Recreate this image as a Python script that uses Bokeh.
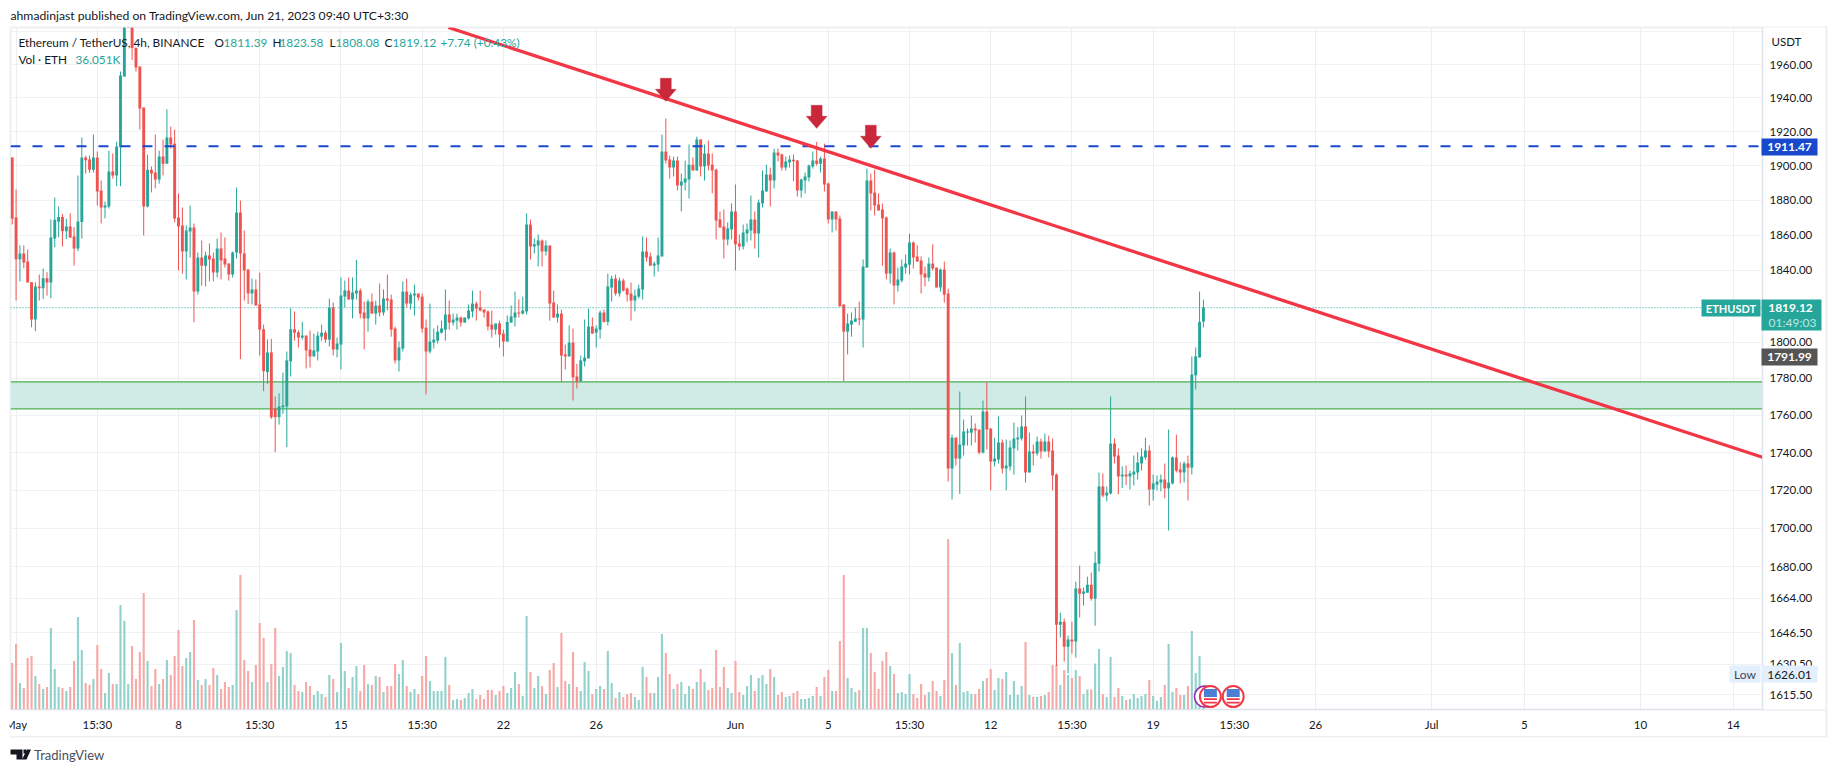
from math import exp
from bokeh.plotting import figure
from bokeh.embed import file_html
from bokeh.resources import INLINE
from bokeh.core.properties import value
from bokeh.models import (Range1d, LinearScale, FixedTicker, NumeralTickFormatter, ColumnDataSource)

FONT = "Lato"
UP, DOWN = "#26a69a", "#ef5350"
UP_V, DOWN_V = "#92d2cc", "#f7a9a7"
INK = "#131722"

opens = [
 1904.9,1870.2,1846.4,1849.6,1845.0,1833.4,1812.5,1831,1830,1835.6,
 1833.2,1858.1,1867.7,1870.4,1862.3,1865,1859.3,1852.4,1867.5,1904.9,
 1903.7,1897.8,1904.9,1885.7,1875.9,1876.5,1896.7,1894.4,1910.9,1952.8,
 1987,1984.6,1970.1,1958.8,1934.3,1876.5,1897.8,1896.1,1892,1905.4,
 1901.3,1916.6,1913,1870.2,1865.6,1850.7,1862.1,1864.4,1828.1,1847.3,
 1842.7,1848.5,1846.8,1838.8,1852.4,1846.8,1843.9,1837.7,1850.2,1873,
 1849.6,1840.5,1827,1829.3,1820.9,1807.1,1783.5,1794.3,1763.5,1759,
 1764.4,1764.8,1789.4,1807.1,1805.4,1802.5,1803.6,1795.9,1792.1,1794.8,
 1803,1805.2,1801.4,1819.2,1795.9,1798.6,1825.3,1828.7,1823.7,1827,
 1828.7,1816.4,1813.1,1822.5,1815.8,1820.3,1816.4,1824.2,1823.7,1807.5,
 1789.9,1796.4,1828.1,1821.4,1825.9,1827,1825.3,1808,1794.8,1799.7,
 1800.8,1805.2,1806.9,1815.3,1810.8,1811.9,1813.6,1810.8,1813.1,1817,
 1821.4,1819.2,1818.1,1817,1809.7,1806.9,1810.3,1804.7,1800.3,1810.8,
 1813.6,1816.4,1815.8,1817,1866.1,1853.6,1854.2,1857,1850.7,1854.2,
 1822,1813.6,1815.8,1793.2,1792.1,1799.7,1781.1,1778.4,1789.4,1791,
 1808.6,1805.2,1806.9,1816.4,1811.2,1830.4,1835.4,1827,1834.3,1829.8,
 1827,1823.1,1825.3,1829.3,1850.7,1847.9,1842.7,1843.3,1847.9,1908.4,
 1903.7,1899,1903.1,1888.6,1890.3,1892,1900.7,1897.3,1915.4,1899.6,
 1907.2,1900.7,1897.8,1869,1865,1857.6,1863.3,1873.6,1855.3,1853.6,
 1861,1862.7,1869,1861,1878.2,1885.1,1895,1891.5,1907.8,1906.6,
 1899,1902,1903.5,1903.1,1885.7,1891.5,1893.2,1899.6,1903.1,1901.3,
 1904.3,1889.7,1869,1873.6,1869.6,1820.9,1805.8,1809.7,1811.2,1813.1,
 1812.5,1841.6,1891.5,1884.6,1877.6,1874.7,1870.2,1838.2,1850.2,1831.5,
 1834.3,1841.6,1843.3,1855.9,1847.9,1845.6,1838.2,1836,1843.9,1841.6,
 1830.4,1840.5,1827,1731.5,1748,1736.8,1743.8,1750.7,1750.7,1752.9,
 1752.3,1740,1762.1,1752.9,1735.2,1736.3,1745.4,1731.5,1732.6,1742.2,
 1747,1747.5,1754,1729.4,1740.6,1739.5,1745.9,1740.6,1745.9,1741.1,
 1728.3,1650.5,1652,1639.4,1643,1642,1668.9,1666.3,1666.8,1670.9,
 1663.7,1681.7,1722,1717.2,1718.3,1744.8,1738.4,1727.3,1728.3,1727.3,
 1728.3,1729.4,1734.2,1737.4,1741.1,1720.4,1723,1724.1,1725.7,1721,
 1723.6,1737.4,1731,1729.4,1734.2,1732,1781.7,1791.5,1811.39]
closes = [
 1869.4,1846.4,1849.6,1844.5,1833.2,1812.5,1831,1830,1835.6,1833.2,
 1858.7,1868.8,1870.4,1862.3,1865,1858.7,1852.4,1867.9,1904.9,1903.3,
 1897.8,1904.9,1885.1,1875.9,1877,1896.7,1894.4,1911.3,1953.4,1986.6,
 1992,1969.9,1958.2,1933.7,1876.5,1897.8,1895.5,1892,1905.4,1901.3,
 1916.6,1912.5,1869.6,1865,1850.7,1862.7,1864.4,1828.1,1847.3,1842.7,
 1848.5,1846.2,1838.8,1852.4,1845.6,1843.3,1837.7,1850.2,1873,1849.6,
 1840,1827,1829.3,1820.3,1806.9,1784,1794.3,1759,1759,1764.8,
 1765.3,1789.9,1807.1,1805.2,1802.5,1803.6,1795.4,1792.1,1795.4,1803.6,
 1805.2,1801.4,1819.2,1795.9,1799.2,1825.9,1828.7,1823.7,1827.6,1828.7,
 1815.8,1813.1,1822.5,1815.8,1820.3,1816.4,1824.2,1823.1,1806.9,1789.9,
 1797,1828.1,1821.4,1826.4,1827,1824.8,1807.5,1794.8,1800.3,1801.4,
 1805.8,1807.5,1815.3,1810.8,1812.5,1813.6,1810.8,1813.6,1817.5,1821.4,
 1818.6,1817.5,1816.4,1808.6,1806.9,1810.3,1804.1,1800.3,1811.2,1814.2,
 1816.4,1815.8,1817.5,1866.1,1853.6,1854.8,1857,1850.7,1854.2,1821.4,
 1813.6,1815.8,1792.6,1792.1,1799.7,1780.6,1778.4,1789.9,1791.5,1808.6,
 1804.7,1807.5,1816.4,1811.2,1831,1835.4,1827,1834.3,1828.7,1826.4,
 1823.1,1825.9,1829.8,1850.7,1847.3,1842.7,1843.9,1848.5,1908.4,1903.1,
 1899,1903.1,1888.6,1890.9,1892.6,1900.7,1897.3,1915.4,1899.6,1907.2,
 1900.2,1897.3,1868.4,1864.4,1857.6,1863.9,1873.6,1854.8,1853.6,1861.6,
 1863.3,1869,1861,1878.8,1885.7,1895,1891.5,1907.8,1906,1899,
 1902.5,1903.7,1902.7,1885.7,1892,1893.8,1900.2,1903.1,1901.3,1904.3,
 1889.2,1869,1873.6,1869,1819.8,1805.8,1810.3,1811.9,1813.1,1812.5,
 1842.2,1891.5,1884,1877,1874.2,1869.6,1838.2,1850.2,1831.5,1834.9,
 1842.2,1843.9,1855.9,1847.3,1845,1837.7,1836,1843.9,1841.1,1830.4,
 1840.5,1826.4,1731.5,1748,1736.8,1744.3,1751.3,1751.3,1752.9,1751.8,
 1740,1762.1,1752.3,1735.2,1736.8,1745.4,1731.5,1733.1,1742.7,1747.5,
 1748,1754,1729.4,1740.6,1739.5,1745.9,1740.6,1745.9,1740.6,1727.8,
 1650.5,1652,1639.4,1643,1642,1668.9,1666.3,1667.4,1670.9,1663.7,
 1682.2,1722,1717.2,1718.8,1744.8,1737.9,1727.3,1728.3,1727.3,1728.9,
 1729.9,1734.7,1737.9,1741.1,1720.4,1723.6,1724.6,1725.7,1721,1724.1,
 1737.4,1730.4,1729.4,1734.2,1732,1782.2,1792.1,1811.2,1819.12]
highs = [
 1904.9,1886.3,1854.2,1854.2,1851.9,1833.4,1833.4,1837.7,1841.1,1839,
 1869,1881.6,1876.5,1872.3,1869.4,1872.6,1864.6,1894.4,1916.6,1906,
 1906,1918.3,1908.4,1891.5,1879.3,1908.9,1907.2,1914.2,1955.8,1990.7,
 1998,1988.6,1970.1,1958.8,1934.3,1906.6,1899.6,1918.3,1908.9,1915.4,
 1933.2,1923,1921.3,1884,1875.9,1865.6,1877,1866.7,1850.2,1857,
 1850.7,1855.3,1850.2,1858.1,1861.6,1858.7,1843.9,1850.7,1887.4,1879.9,
 1862.7,1840.5,1835.4,1834.9,1838.8,1809.7,1801.4,1801.8,1770.2,1771.9,
 1783.3,1794.8,1818.8,1817,1806.5,1811.2,1803.6,1806.4,1804.7,1805.8,
 1809.7,1806.4,1824.2,1822,1802.5,1836,1834.3,1836,1836,1846,
 1829.8,1822.5,1823.7,1827,1823.1,1832.6,1829.3,1837.7,1826.4,1808.6,
 1800.3,1833.8,1835.4,1827.6,1832,1827,1827,1812.5,1821.4,1807.5,
 1809.2,1811.9,1829.3,1823.1,1815.8,1815.8,1814.2,1813.6,1820.9,1828.7,
 1822.5,1828.7,1818.1,1817.5,1817.5,1810.3,1811.9,1806.9,1814.7,1820.3,
 1828.1,1823.7,1825.3,1872.5,1869,1858.1,1860.4,1857.6,1857,1854.2,
 1828.7,1820.9,1818.1,1798.6,1809.2,1807.5,1788,1792.6,1812.5,1818.6,
 1813.6,1809.2,1817.5,1818.1,1838.2,1837.1,1837.7,1836,1835.4,1830.4,
 1833.2,1829.3,1832,1859.3,1858.7,1850.2,1845,1858.7,1918.3,1927.8,
 1906,1905.4,1905.4,1895.5,1903.1,1912.5,1904.9,1917.1,1915.4,1912.5,
 1914.8,1907.2,1898.4,1873.6,1874.7,1867.3,1878.2,1889.2,1860.4,1866.1,
 1866.7,1882.8,1873.6,1880.5,1897.3,1900.7,1899,1910.1,1910.1,1907.2,
 1905.4,1906,1906.6,1903.5,1892.6,1896.1,1900.7,1908.4,1914,1905.4,
 1913,1890.3,1873.6,1873.6,1871.3,1820.9,1815.8,1816.4,1819.2,1822.5,
 1846.2,1898.4,1895.5,1897.8,1884,1878.2,1870.7,1852.4,1850.7,1841.6,
 1846.2,1849,1861,1856.4,1854.2,1847.9,1842.2,1847.3,1854.8,1841.6,
 1841.1,1845,1829.8,1749.6,1748,1772.9,1757.7,1752.9,1759.9,1755.6,
 1752.3,1768,1778,1752.9,1748,1759.4,1747,1747,1746.4,1756.1,
 1753.6,1759.9,1770.2,1750.7,1744.3,1748.6,1747.5,1750.2,1749.1,1747.5,
 1728.9,1656.6,1653.6,1645,1652,1672.4,1680.7,1669.4,1675,1677.1,
 1687.9,1729.4,1728.9,1722,1770.2,1747.5,1742.2,1732.6,1733.1,1730.4,
 1738.4,1740.2,1742.2,1748,1743.8,1728.3,1727.8,1728.3,1734.2,1752.3,
 1737.9,1749.6,1734.7,1735.2,1738.4,1792.1,1797,1828.1,1823.58]
lows = [
 1866.1,1823.1,1833.8,1841.2,1833.2,1808.2,1806,1823.1,1824,1825.9,
 1824.4,1853.2,1858.9,1853.6,1857.8,1858.5,1842.7,1850.9,1858.1,1895.5,
 1895.9,1896.1,1877,1866.7,1869.6,1875.3,1892.6,1888.2,1888.2,1952.8,
 1985,1962.8,1955.8,1921.3,1859.9,1875.9,1884.6,1886.9,1889.7,1894.4,
 1901.3,1910.1,1867.3,1840,1838.2,1834.9,1847.3,1811,1826.4,1831.5,
 1831,1833.8,1833.8,1836,1834.9,1841.6,1834.3,1836,1846.8,1790.6,
 1823.1,1821.2,1820.9,1820.3,1792.6,1773.1,1777.1,1758.1,1740.2,1755,
 1760.8,1742.9,1781.1,1800.8,1797,1801.4,1785.5,1786,1792.1,1789.9,
 1800.8,1799.7,1797.5,1792.6,1791.5,1784.9,1819.2,1823.7,1813.1,1823.7,
 1813.1,1795.9,1805.8,1815.8,1809.7,1814.2,1814.7,1817.5,1803,1788.2,
 1783.8,1794.8,1819.2,1818.1,1814.7,1823.1,1805.2,1771.3,1793.7,1796.4,
 1799.2,1804.7,1800.8,1806.9,1809.2,1806.9,1808.6,1810.8,1812.5,1813.6,
 1811.9,1817,1813.6,1806.4,1802.5,1804.1,1797,1792.1,1800.3,1810.8,
 1808.6,1813.6,1815.3,1815.3,1846.2,1849.6,1842.2,1842.2,1848.5,1811.9,
 1813.6,1810.8,1778,1784.9,1792.1,1768,1774.6,1778.4,1786.6,1791,
 1804.7,1797,1801.9,1810.8,1809.2,1822.5,1825.9,1825.3,1828.1,1822.5,
 1811.9,1817,1824.2,1823.7,1845,1842.7,1836.6,1839.4,1847.9,1901.3,
 1892.6,1893.8,1885.7,1873.6,1885.7,1881,1897.3,1897.3,1893.8,1891.5,
 1897.3,1884,1857.6,1864.4,1846.8,1854.2,1857.6,1840,1851.3,1851.9,
 1855.9,1857,1852.4,1847.3,1875.9,1885.1,1876.5,1886.9,1902.5,1897.3,
 1897.3,1899,1891.1,1882.2,1881.6,1884,1890.9,1898.4,1900.2,1896.1,
 1885.1,1866.7,1861.6,1862.7,1819.8,1778.4,1793.2,1803,1811.2,1809.2,
 1797,1841.6,1874.2,1871.3,1874.2,1842.7,1834.9,1832.6,1820.9,1828.1,
 1833.2,1838.2,1837.7,1841.1,1845,1827,1831,1833.8,1840,1830.4,
 1828.1,1822,1724.6,1715.1,1733.1,1718,1738.4,1743.8,1743.8,1745.4,
 1739,1739.5,1741.6,1719.9,1732.6,1734.2,1728.9,1719.9,1730.4,1728.3,
 1741.1,1746.4,1724.1,1729.4,1733.1,1738.4,1736.8,1740.6,1737.4,1719.9,
 1629.7,1644,1631.9,1626.01,1635.9,1633.9,1654.1,1660.2,1666.8,1662.7,
 1650,1677.6,1716.2,1714.1,1717.8,1734.2,1717.8,1721.1,1722.7,1720.4,
 1722.5,1725.7,1730.4,1736.3,1712,1714.6,1719.9,1719.4,1715.7,1698.9,
 1723.1,1729.4,1723.6,1724.1,1714.6,1728.3,1774,1791.5,1808.08]
volumes_k = [
 93,131,53,43,103,107,67,51,41,45,
 163,81,45,43,37,45,97,185,119,53,
 49,61,129,81,33,73,51,51,209,177,
 51,127,61,115,233,97,47,81,51,61,
 99,69,107,159,87,103,115,179,59,49,
 61,49,83,69,41,55,45,49,199,269,
 99,77,55,89,173,143,55,91,163,67,
 85,117,113,49,37,35,55,47,29,37,
 31,25,69,61,35,133,77,43,65,87,
 37,89,51,49,67,65,35,47,47,91,
 71,99,47,35,41,31,67,107,57,37,
 37,37,105,49,19,21,19,23,33,41,
 21,29,21,39,39,29,37,47,33,43,
 75,51,27,187,75,43,67,47,31,79,
 93,45,153,57,51,115,45,37,95,77,
 31,41,47,41,117,53,23,35,25,31,
 33,25,19,85,65,33,33,65,151,113,
 71,41,51,55,31,47,41,55,81,55,
 39,43,119,45,85,43,33,97,35,29,
 47,69,37,63,69,51,81,65,29,35,
 25,27,33,37,21,21,23,27,45,27,
 65,79,37,37,137,269,63,43,35,39,
 163,163,113,75,41,97,115,87,71,33,
 35,31,71,31,23,51,29,35,57,37,
 27,59,341,113,49,133,35,37,31,31,
 41,57,63,81,39,63,61,75,29,57,
 29,47,135,29,25,25,27,29,35,89,
 89,49,79,69,63,79,67,31,40,40,
 92,121,31,25,105,25,43,27,19,21,
 31,23,27,31,59,27,17,25,49,131,
 35,43,29,29,47,157,73,107,36.051]

price_ticks = [1980,1960,1940,1920,1900,1880,1860,1840,1800,1780,1760,1740,1720,1700,1680,1664,1646.5,1630.5,1615.5]
time_ticks = [1,22,43,64,85,106,127,151,187,211,232,253,274,295,316,337,367,391,421,445]
time_labels = ["May","15:30","8","15:30","15","15:30","22","26","Jun","5","15:30","12","15:30","19","15:30","26","Jul","5","10","14"]

zone_top, zone_bottom = 1778.2, 1763.5
level_price = 1911.47
last_price = 1819.12
trend_x = [112.8, 452.55]
trend_y = [1982.4, 1737.5]
arrow_x = [169, 208, 222]
arrow_tip = [1938.0, 1922.0, 1910.3]
event_x = [309.8, 315.7]
ring_x = [308.4]
event_price = 1614.5

X_MIN, X_MAX, Y_MIN, Y_MAX = -0.44, 452.55, 1608.1, 1982.4
PX_PER_BAR = 3.868
PX_PER_LOG = 3259.0


def shifted(x, price, dx, dy):
    return x + dx / PX_PER_BAR, price * exp(-dy / PX_PER_LOG)


main = figure(width=1835, height=772, output_backend="svg", toolbar_location=None,
              y_axis_type="log", y_axis_location="right",
              x_range=Range1d(X_MIN, X_MAX), y_range=Range1d(Y_MIN, Y_MAX),
              min_border_left=10, min_border_right=73, min_border_top=27, min_border_bottom=63)
main.outline_line_color = "#eff0f4"
main.outline_line_width = 2
main.extra_y_ranges = {"vol": Range1d(0, 1364)}
main.extra_y_scales = {"vol": LinearScale()}

main.yaxis.ticker = FixedTicker(ticks=price_ticks, minor_ticks=[])
main.yaxis.formatter = NumeralTickFormatter(format="0.00")
main.yaxis.major_label_overrides = {1980: ""}
main.xaxis.ticker = FixedTicker(ticks=time_ticks, minor_ticks=[])
main.xaxis.major_label_overrides = dict(zip(time_ticks, time_labels))
for ax in (main.xaxis[0], main.yaxis[0]):
    ax.major_tick_line_color = None
    ax.minor_tick_line_color = None
    ax.axis_line_color = "#e0e3eb"
    ax.major_label_text_font = FONT
    ax.major_label_text_font_size = "11.5px"
    ax.major_label_text_color = INK
main.xaxis[0].major_label_standoff = 2
main.yaxis[0].major_label_standoff = 1
main.xgrid.ticker = FixedTicker(ticks=time_ticks, minor_ticks=[])
main.ygrid.ticker = FixedTicker(ticks=price_ticks, minor_ticks=[])
main.xgrid.grid_line_color = "#eceef1"
main.ygrid.grid_line_color = "#f0f1f3"

# zone
main.quad(left=X_MIN, right=X_MAX, bottom=zone_bottom, top=zone_top, fill_color="#d0ebe5", line_color=None)
main.line([X_MIN, X_MAX], [zone_top] * 2, line_color="#4caf50", line_width=1.2)
main.line([X_MIN, X_MAX], [zone_bottom] * 2, line_color="#4caf50", line_width=1.2)

# volume, candles
n = len(closes)
idx = list(range(n))
is_up = [c >= o for o, c in zip(opens, closes)]
src = ColumnDataSource(dict(
    x=idx, o=opens, c=closes, h=highs, l=lows, v=volumes_k,
    top=[max(a, b) for a, b in zip(opens, closes)],
    bot=[min(a, b) for a, b in zip(opens, closes)],
    col=[UP if u else DOWN for u in is_up],
    vcol=[UP_V if u else DOWN_V for u in is_up]))
main.vbar(x="x", width=0.55, bottom=0, top="v", color="vcol", line_color=None, source=src, y_range_name="vol")
main.segment(x0="x", y0="l", x1="x", y1="h", color="col", line_width=1, source=src)
main.vbar(x="x", width=0.75, bottom="bot", top="top", fill_color="col", line_color=None, source=src)

# levels
main.line([X_MIN, X_MAX], [last_price] * 2, line_color=UP, line_width=1, line_dash="1 2")
main.line([X_MIN, X_MAX], [level_price] * 2, line_color="#1848cc", line_width=2, line_dash="10 12")
main.line(trend_x, trend_y, line_color="#f23645", line_width=3.3)

# arrows
ARROW = [(0, 0), (10.3, -12), (5.4, -12), (5.4, -23), (-5.4, -23), (-5.4, -12), (-10.3, -12)]
xs, ys = [], []
for ax_, tip in zip(arrow_x, arrow_tip):
    pts = [shifted(ax_, tip, dx, dy) for dx, dy in ARROW]
    xs.append([q[0] for q in pts])
    ys.append([q[1] for q in pts])
main.patches(xs, ys, fill_color="#c9283a", line_color="#c9283a", line_width=0.5)

# event flags
main.scatter(ring_x, [event_price], size=21, fill_color="white", line_color="#9c27b0", line_width=1.5)
main.scatter(event_x, [event_price] * 2, size=21, fill_color="white", line_color="#f23645", line_width=2)
for ex in event_x:
    cx, cy = shifted(ex, event_price, 0, -3.5)
    main.rect([cx], [cy], width=13, height=8, width_units="screen", height_units="screen", fill_color="#4a7fd4", line_color=None)
    for dy in (2.5, 6):
        cx, cy = shifted(ex, event_price, 0, dy)
        main.rect([cx], [cy], width=13, height=1.8, width_units="screen", height_units="screen", fill_color="#f23645", line_color=None)

# transparent layer on top: header, legend, price chips, logo, which lie outside the plot frame
over = figure(width=1835, height=772, output_backend="svg", toolbar_location=None,
              x_range=Range1d(0, 1835), y_range=Range1d(772, 0),
              x_axis_location=None, y_axis_location=None,
              min_border=0, border_fill_color=None, background_fill_color=None,
              styles={"position": "absolute", "left": "0px", "top": "0px"})
over.outline_line_color = None
over.xgrid.visible = False
over.ygrid.visible = False


def box(x0, y0, x1, y1, fill):
    over.quad(left=x0, right=x1, top=y0, bottom=y1, fill_color=fill, line_color=None)


def text(x, y, s, color=INK, size=12, bold=False, align="left"):
    over.text([x], [y], text=[s], text_color=color, text_font=value(FONT), text_font_size=f"{size}px",
              text_baseline="middle", text_align=align, text_font_style="bold" if bold else "normal")


# frame pieces
box(1762, 709, 1825, 710, "#e0e3eb")
box(1825, 26, 1827, 737, "#eff0f4")
box(9, 735.5, 1827, 737, "#eff0f4")
box(1762, 26, 1827, 27, "#eff0f4")
box(0, 712, 9, 733, "#ffffff")

# header and legend
text(10, 15, "ahmadinjast published on TradingView.com, Jun 21, 2023 09:40 UTC+3:30", size=12.2)
text(18, 42, "Ethereum / TetherUS, 4h, BINANCE", size=11.8)
for x_, s_, c_ in [(214, "O", INK), (223, "1811.39", UP), (272, "H", INK), (279, "1823.58", UP), (329, "L", INK),
                   (335, "1808.08", UP), (384, "C", INK), (392, "1819.12", UP), (440, "+7.74 (+0.43%)", UP)]:
    text(x_, 42, s_, c_, 11.8)
text(18, 59, "Vol · ETH", size=11.8)
text(75, 59, "36.051K", UP, 11.8)

# right axis chips
text(1771, 41, "USDT", size=11.5)
box(1761, 138, 1817, 155, "#1848cc")
text(1789, 146.5, "1911.47", "white", 12, True, "center")
box(1701, 299, 1760, 316, UP)
text(1730.5, 307.5, "ETHUSDT", "white", 11, True, "center")
box(1761, 299, 1821, 330, UP)
text(1790, 307.5, "1819.12", "white", 12, True, "center")
text(1792, 322, "01:49:03", "#bfe6e1", 12, False, "center")
box(1761, 348, 1817, 365, "#555555")
text(1789, 356.5, "1791.99", "white", 12, True, "center")
box(1729, 665, 1760, 682, "#e3effd")
text(1744.5, 674, "Low", "#434651", 12, False, "center")
box(1761, 665, 1817, 682, "#e3effd")
text(1789, 674, "1626.01", INK, 12, False, "center")

# logo
over.patches([[10, 22, 22, 16, 16, 10], [23, 26, 26, 23], [26.5, 30.5, 26, 21.5]],
             [[749, 749, 759, 759, 754, 754], [749, 749, 753, 753], [749, 749, 759, 759]],
             fill_color=INK, line_color=None)
text(33.5, 754.5, "TradingView", "#4a4e59", 13)

open("out.html", "w").write(file_html([main, over], INLINE))
